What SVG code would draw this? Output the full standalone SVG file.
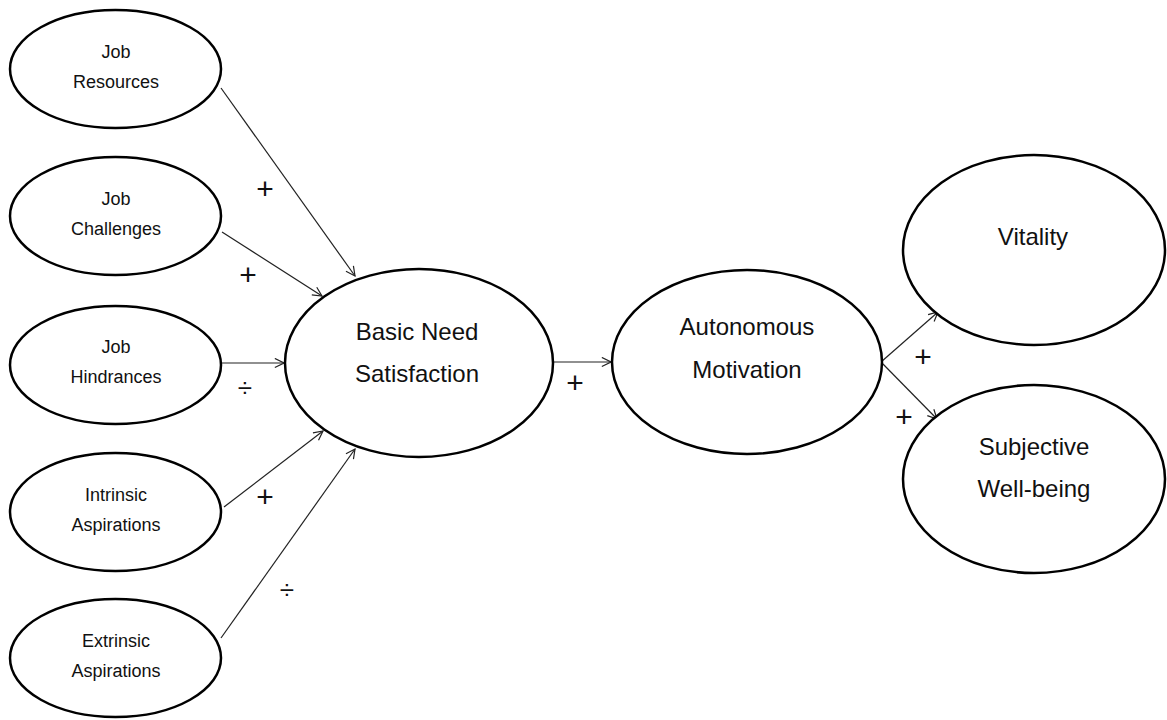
<svg xmlns="http://www.w3.org/2000/svg" width="1167" height="720" viewBox="0 0 1167 720">
<style>
.n{fill:#fff;stroke:#000;stroke-width:2.5}
.s{font-family:"Liberation Sans",Arial,sans-serif;font-size:18px;fill:#111;text-anchor:middle}
.b{font-family:"Liberation Sans",Arial,sans-serif;font-size:24px;fill:#111;text-anchor:middle}
.c{stroke:#222;stroke-width:1.2;fill:none;marker-end:url(#a)}
.l{font-family:"Liberation Sans",Arial,sans-serif;font-size:30px;fill:#111;text-anchor:middle}
.d{font-family:"Liberation Sans",Arial,sans-serif;font-size:26px;fill:#111;text-anchor:middle}
</style>
<defs>
<marker id="a" viewBox="0 0 12 12" refX="11" refY="6" markerWidth="11" markerHeight="11" markerUnits="userSpaceOnUse" orient="auto">
<path d="M1,1 L11,6 L1,11" fill="none" stroke="#222" stroke-width="1.3"/>
</marker>
</defs>
<rect width="1167" height="720" fill="#fff"/>
<g id="connectors">
<line class="c" x1="221" y1="88" x2="355" y2="276"/>
<line class="c" x1="222" y1="232" x2="322" y2="296"/>
<line class="c" x1="222" y1="363" x2="284" y2="363"/>
<line class="c" x1="224" y1="507" x2="323" y2="431"/>
<line class="c" x1="221" y1="638" x2="355" y2="449"/>
<line class="c" x1="553" y1="362" x2="611" y2="362"/>
<line class="c" x1="881" y1="362" x2="938" y2="312"/>
<line class="c" x1="881" y1="362" x2="937" y2="419"/>
</g>
<g id="labels">
<text class="l" x="265" y="199">+</text>
<text class="l" x="248" y="285">+</text>
<text class="d" x="245" y="397">÷</text>
<text class="l" x="265" y="507">+</text>
<text class="d" x="287" y="599">÷</text>
<text class="l" x="575" y="393">+</text>
<text class="l" x="923" y="367">+</text>
<text class="l" x="904" y="427">+</text>
</g>
<g id="job-resources">
<ellipse class="n" cx="115.5" cy="69" rx="105.5" ry="59"/>
<text class="s" x="116" y="58">Job</text>
<text class="s" x="116" y="88">Resources</text>
</g>
<g id="job-challenges">
<ellipse class="n" cx="115.5" cy="216" rx="105.5" ry="59"/>
<text class="s" x="116" y="205">Job</text>
<text class="s" x="116" y="235">Challenges</text>
</g>
<g id="job-hindrances">
<ellipse class="n" cx="115.5" cy="365" rx="105.5" ry="59"/>
<text class="s" x="116" y="353">Job</text>
<text class="s" x="116" y="383">Hindrances</text>
</g>
<g id="intrinsic-aspirations">
<ellipse class="n" cx="115.5" cy="512" rx="105.5" ry="59"/>
<text class="s" x="116" y="501">Intrinsic</text>
<text class="s" x="116" y="531">Aspirations</text>
</g>
<g id="extrinsic-aspirations">
<ellipse class="n" cx="115.5" cy="658" rx="105.5" ry="59"/>
<text class="s" x="116" y="647">Extrinsic</text>
<text class="s" x="116" y="677">Aspirations</text>
</g>
<g id="basic-need-satisfaction">
<ellipse class="n" cx="419" cy="363" rx="134" ry="94"/>
<text class="b" x="417" y="340">Basic Need</text>
<text class="b" x="417" y="382">Satisfaction</text>
</g>
<g id="autonomous-motivation">
<ellipse class="n" cx="747" cy="362" rx="135" ry="92"/>
<text class="b" x="747" y="335">Autonomous</text>
<text class="b" x="747" y="378">Motivation</text>
</g>
<g id="vitality">
<ellipse class="n" cx="1034" cy="250" rx="131" ry="95"/>
<text class="b" x="1033" y="245">Vitality</text>
</g>
<g id="subjective-well-being">
<ellipse class="n" cx="1034" cy="479" rx="131" ry="94"/>
<text class="b" x="1034" y="455">Subjective</text>
<text class="b" x="1034" y="497">Well-being</text>
</g>
</svg>
